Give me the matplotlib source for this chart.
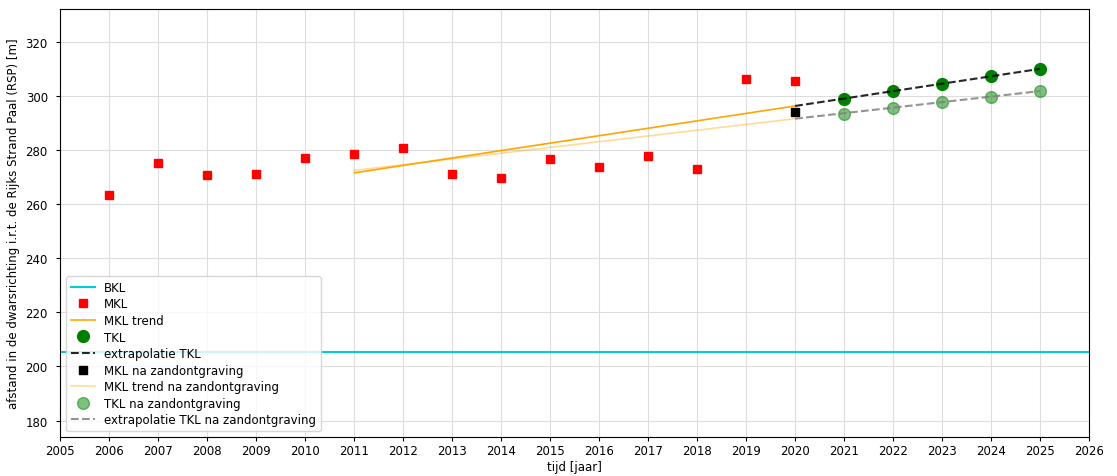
import numpy as np
import matplotlib
matplotlib.use("Agg")
import matplotlib.pyplot as plt

# MKL metingen
jaren_mkl = [2006, 2007, 2008, 2009, 2010, 2011, 2012, 2013, 2014, 2015,
             2016, 2017, 2018, 2019, 2020]
mkl = [263.3, 275.0, 270.7, 271.2, 277.0, 278.6, 280.8, 271.0, 269.5, 276.6,
       273.6, 277.8, 272.8, 306.0, 305.6]

# trendlijnen (begin/eind)
trend_jaren = [2011, 2020]
mkl_trend = [271.5, 296.2]
mkl_trend_na = [272.4, 291.5]

# na zandontgraving
jaar_na = [2020]
mkl_na = [293.8]

# TKL
jaren_tkl = [2021, 2022, 2023, 2024, 2025]
tkl = [298.9, 301.7, 304.4, 307.1, 309.9]
tkl_na = [293.4, 295.5, 297.5, 299.6, 301.7]

extra_jaren = [2020, 2025]
extra_tkl = [296.2, 309.9]
extra_tkl_na = [291.5, 301.7]

bkl = 205.3

plt.rcParams['font.size'] = 8.5

fig, ax = plt.subplots(figsize=(11.17, 4.77), dpi=100)
fig.subplots_adjust(left=0.054, right=0.975, top=0.979, bottom=0.082)

ax.axhline(bkl, color='darkturquoise', linewidth=1.5, label='BKL')
ax.plot(jaren_mkl, mkl, 's', color='red', markersize=5.5, label='MKL')
ax.plot(trend_jaren, mkl_trend, '-', color='orange', linewidth=1.2, label='MKL trend')
ax.plot(jaren_tkl, tkl, 'o', color='green', markersize=8.5, label='TKL')
ax.plot(extra_jaren, extra_tkl, '--', color='black', linewidth=1.5, alpha=0.85, label='extrapolatie TKL')
ax.plot(jaar_na, mkl_na, 's', color='black', markersize=5.5, label='MKL na zandontgraving')
ax.plot(trend_jaren, mkl_trend_na, '-', color='orange', alpha=0.4, linewidth=1.2,
        label='MKL trend na zandontgraving')
ax.plot(jaren_tkl, tkl_na, 'o', color='green', alpha=0.5, markersize=8.5,
        label='TKL na zandontgraving')
ax.plot(extra_jaren, extra_tkl_na, '--', color='gray', linewidth=1.5, alpha=0.85,
        label='extrapolatie TKL na zandontgraving')

ax.set_xlim(2005, 2026)
ax.set_ylim(174, 332)
ax.set_xticks(np.arange(2005, 2027, 1))
ax.set_yticks(np.arange(180, 321, 20))
ax.tick_params(axis='x', length=3, pad=2)
ax.tick_params(axis='y', length=3, pad=6)
ax.grid(True, color='#dddddd', linewidth=0.8)
ax.set_axisbelow(True)
ax.set_xlabel('tijd [jaar]', labelpad=2)
ax.set_ylabel('afstand in de dwarsrichting i.r.t. de Rijks Strand Paal (RSP) [m]')
ax.legend(loc='lower left', fontsize=8.5, labelspacing=0.3)

fig.savefig('out.png', dpi=100)
